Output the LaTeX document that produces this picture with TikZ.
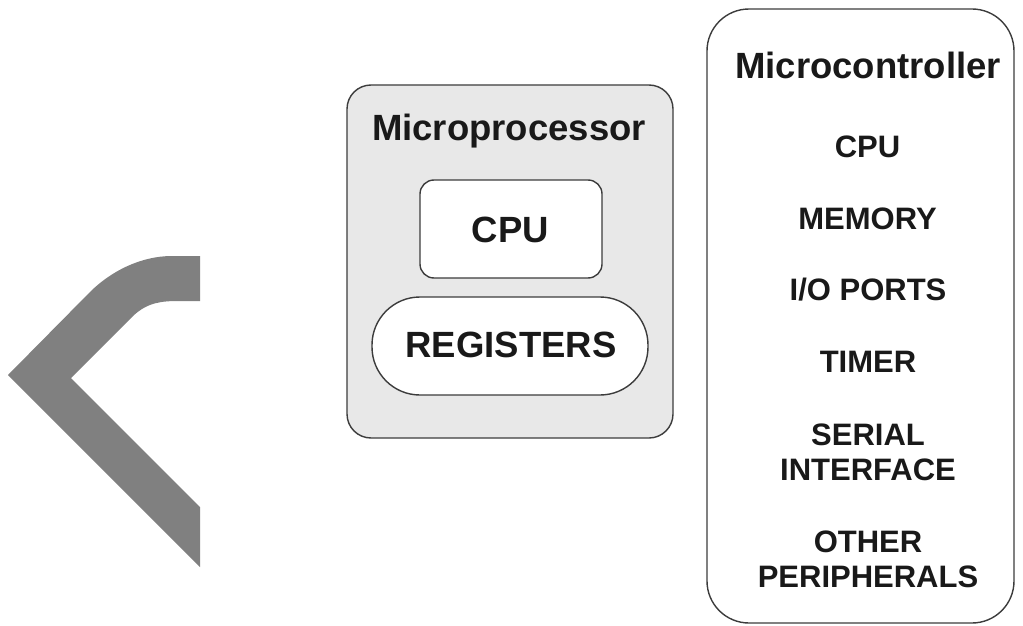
\documentclass[tikz,border=0pt]{standalone}
\usepackage{fontspec}
\setmainfont{Liberation Sans}
\definecolor{chev}{RGB}{128,128,128}
\definecolor{mpfill}{RGB}{232,232,232}
\definecolor{edge}{RGB}{60,60,60}
\definecolor{ink}{RGB}{25,25,25}
\tikzset{
  boxshape/.style={draw=edge, line width=1.4pt, inner sep=0pt},
  bigtxt/.style={font=\fontsize{36.5}{42}\selectfont\bfseries, text=ink, inner sep=0pt, anchor=base},
  listtxt/.style={font=\fontsize{31}{35}\selectfont\bfseries, text=ink, inner sep=0pt, align=center}
}
\begin{document}
\begin{tikzpicture}[x=1pt,y=-1pt]
\useasboundingbox (0,0) rectangle (1023,626);
% chevron
\fill[chev] (200,256) -- (172,256) .. controls (140,256) and (110,272) .. (90,292)
  -- (8,375) -- (200,567) -- (200,507) -- (71,378) -- (133,316)
  .. controls (148,302) and (162,301) .. (180,301) -- (200,301) -- cycle;
% microprocessor
\node[boxshape, fill=mpfill, minimum width=326pt, minimum height=353pt, rounded corners=24pt] (mp) at (510,261.5) {};
\node[boxshape, fill=white, minimum width=182pt, minimum height=98pt, rounded corners=14pt] (mpcpu) at (511,229) {};
\node[boxshape, fill=white, minimum width=276pt, minimum height=98pt, rounded corners=48pt] (mpreg) at (510,346) {};
\node[bigtxt] (mptitle) at (509,140) {Microprocessor};
\node[bigtxt] (mpcputxt) at (510.5,242) {CPU};
\node[bigtxt] (mpregtxt) at (511,357) {REGISTERS};
% microcontroller
\node[boxshape, fill=white, minimum width=307pt, minimum height=614pt, rounded corners=42pt] (mc) at (860.5,316) {};
\node[bigtxt] (mctitle) at (868,79) {Microcontroller};
\node[listtxt, anchor=base] (mccpu) at (867.5,157) {CPU};
\node[listtxt, anchor=base] (mcmem) at (867.5,229) {MEMORY};
\node[listtxt, anchor=base] (mcio) at (868,300) {I/O PORTS};
\node[listtxt, anchor=base] (mctim) at (868,372) {TIMER};
\node[listtxt, anchor=center] (mcser) at (868,452.5) {SERIAL\\INTERFACE};
\node[listtxt, anchor=center] (mcoth) at (868,559) {OTHER\\PERIPHERALS};
\end{tikzpicture}
\end{document}
